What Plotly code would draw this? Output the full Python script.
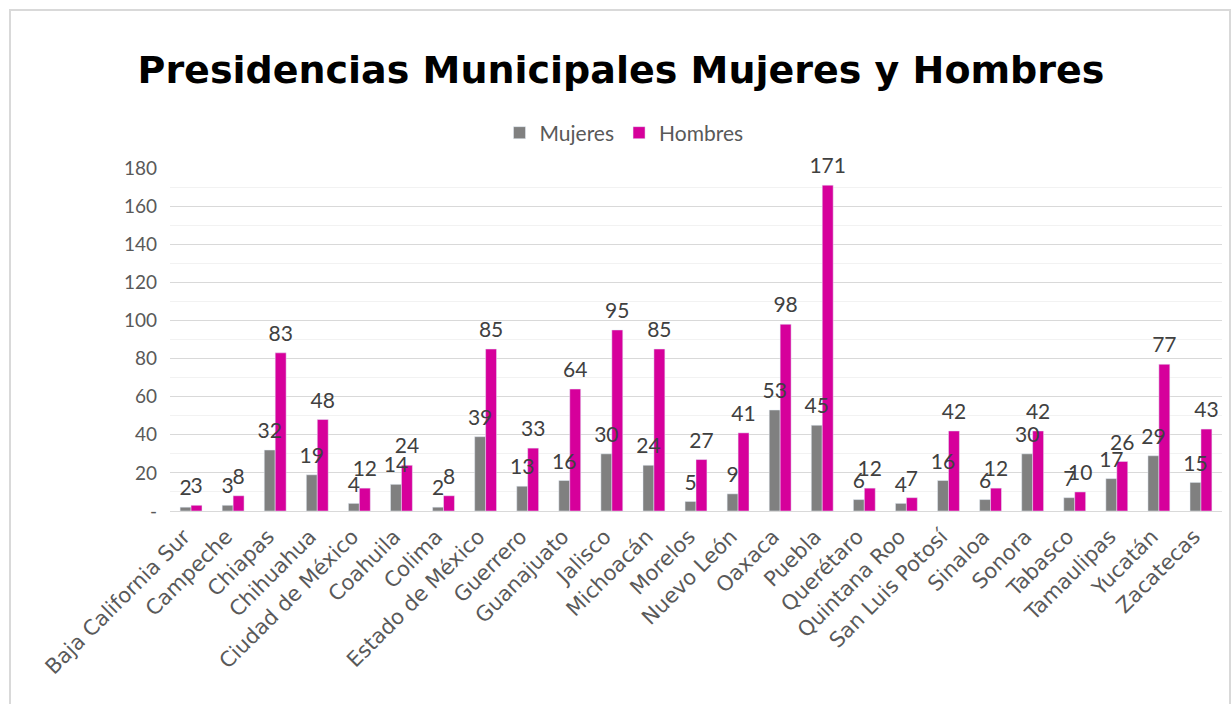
import plotly.graph_objects as go

estados = ["Baja California Sur", "Campeche", "Chiapas", "Chihuahua", "Ciudad de México",
           "Coahuila", "Colima", "Estado de México", "Guerrero", "Guanajuato", "Jalisco",
           "Michoacán", "Morelos", "Nuevo León", "Oaxaca", "Puebla", "Querétaro",
           "Quintana Roo", "San Luis Potosí", "Sinaloa", "Sonora", "Tabasco",
           "Tamaulipas", "Yucatán", "Zacatecas"]
mujeres = [2, 3, 32, 19, 4, 14, 2, 39, 13, 16, 30, 24, 5, 9, 53, 45, 6, 4, 16, 6, 30, 7, 17, 29, 15]
hombres = [3, 8, 83, 48, 12, 24, 8, 85, 33, 64, 95, 85, 27, 41, 98, 171, 12, 7, 42, 12, 42, 10, 26, 77, 43]
y_ticks = [0, 20, 40, 60, 80, 100, 120, 140, 160, 180]
y_ticktext = ["-", "20", "40", "60", "80", "100", "120", "140", "160", "180"]

font_main = "Lato, Carlito, sans-serif"
fig = go.Figure()
series = [("Mujeres", mujeres, "#808080"), ("Hombres", hombres, "#d6009b")]
for name, vals, col in series:
    fig.add_trace(go.Bar(name=name, x=estados, y=vals, marker_color=col,
                         offsetgroup=name, hoverinfo="x+y"))
for name, vals, col in series:
    fig.add_trace(go.Scatter(x=estados, y=vals, mode="markers+text", text=vals,
                             textposition="top center", offsetgroup=name,
                             marker=dict(size=9, opacity=0, color=col),
                             textfont=dict(size=21, color="#404040", family=font_main),
                             cliponaxis=False, showlegend=False, hoverinfo="skip"))

L, R, T, B = 170, 9, 168, 193
W, H = 1231, 704
pw, ph = W - L - R, H - T - B

fig.update_layout(
    width=W, height=H,
    margin=dict(l=L, r=R, t=T, b=B, autoexpand=False),
    paper_bgcolor="white", plot_bgcolor="white",
    barmode="group", bargap=0.48, bargroupgap=0,
    scattermode="group", scattergap=0.48,
    title=dict(text="<b>Presidencias Municipales Mujeres y Hombres</b>",
               x=621 / W, xanchor="center", y=1 - 70 / H, yanchor="middle",
               font=dict(family="DejaVu Sans", size=38, color="black")),
    legend=dict(orientation="h", xref="container", x=624 / W, xanchor="center",
                y=(H - B - 133) / ph, yanchor="middle",
                font=dict(family=font_main, size=21, color="#595959"), traceorder="normal"),
    font=dict(family=font_main, color="#595959"),
    xaxis=dict(tickangle=-45,
               tickfont=dict(size=21, color="#595959", family="DejaVu Sans, Verdana, sans-serif"),
               ticklabelshift=-7, ticklabelstandoff=4,
               showline=True, linecolor="#d9d9d9", linewidth=1, ticks="", automargin=False),
    yaxis=dict(range=[0, 180], tickvals=y_ticks, ticktext=y_ticktext,
               tickfont=dict(size=19, color="#595959", family=font_main),
               showgrid=True, gridcolor="#d9d9d9", gridwidth=1,
               minor=dict(dtick=10, showgrid=True, gridcolor="#f2f2f2", gridwidth=1),
               zeroline=False, showline=False, ticks="", ticklabelstandoff=12, automargin=False),
)

# outer chart border
fig.add_shape(type="rect", xref="paper", yref="paper",
              x0=(10 - L) / pw, x1=(W - 1 - L) / pw,
              y0=(H - B - (H + 5)) / ph, y1=(H - B - 10) / ph,
              line=dict(color="#d9d9d9", width=2), fillcolor="rgba(0,0,0,0)", layer="below")

fig.write_html("out.html", config={"displayModeBar": False},
               post_script="document.body.style.margin='0';document.body.style.overflow='hidden';")
